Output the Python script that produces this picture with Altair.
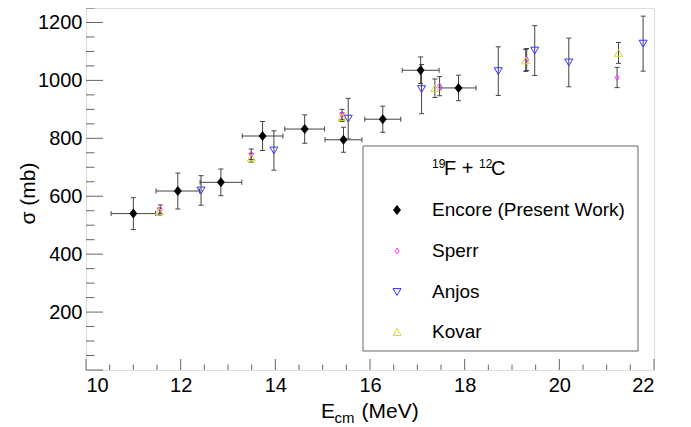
import altair as alt
import pandas as pd
import numpy as np

# ---- data ----
# Encore (Present Work)
enc_E = [11.00, 11.94, 12.85, 13.73, 14.62, 15.44, 16.27, 17.07, 17.87]
enc_dE = [0.47, 0.46, 0.44, 0.43, 0.42, 0.39, 0.38, 0.39, 0.37]
enc_sig = [540, 618, 648, 808, 832, 795, 866, 1035, 974]
enc_dsig = [55, 62, 46, 50, 49, 43, 45, 46, 44]

# Sperr
sperr_E = [11.57, 13.49, 15.41, 17.47, 19.31, 21.22]
sperr_sig = [555, 745, 882, 980, 1072, 1010]
sperr_dsig = [15, 18, 18, 33, 38, 35]

# Anjos
anjos_E = [12.43, 13.97, 15.54, 17.09, 18.71, 19.48, 20.20, 21.77]
anjos_sig = [620, 758, 868, 970, 1032, 1103, 1062, 1127]
anjos_dsig = [51, 68, 70, 85, 84, 86, 84, 95]

# Kovar
kovar_E = [11.55, 13.49, 15.41, 17.37, 19.29, 21.25]
kovar_sig = [547, 733, 873, 973, 1069, 1095]
kovar_dsig = [12, 15, 15, 32, 38, 36]

series_names = ["Encore (Present Work)", "Sperr", "Anjos", "Kovar"]

x_labels = [10, 12, 14, 16, 18, 20, 22]
y_labels = [200, 400, 600, 800, 1000, 1200]
x_major_ticks = x_labels
x_minor_ticks = [v for v in np.arange(10, 22.01, 0.5).tolist() if v not in x_labels]
y_major_ticks = [0] + y_labels
y_minor_ticks = [v for v in range(0, 1251, 50) if v not in y_major_ticks]

# ---- styling ----
W, H = 568, 362
FONT = "Liberation Sans"
BAR = "#444444"
FRAME = "#666666"

xs = alt.Scale(domain=[10, 22], nice=False, zero=False)
ys = alt.Scale(domain=[0, 1250], nice=False, zero=False)
xaxis = alt.Axis(values=x_labels, ticks=False, tickSize=0, domain=False, grid=False,
                 labelFontSize=20, labelFont=FONT, labelColor="black", labelPadding=5,
                 format="d", title=None)
yaxis = alt.Axis(values=y_labels, ticks=False, tickSize=0, domain=False, grid=False,
                 labelFontSize=20, labelFont=FONT, labelColor="black", labelPadding=4,
                 format="d",
                 title="σ (mb)", titleFont=FONT, titleFontSize=21, titleFontWeight="normal",
                 titleColor="black", titleX=-58, titleY=185, titleAngle=270,
                 titleAlign="center", titleBaseline="middle")


def X(f):
    return alt.X(f, type="quantitative", scale=xs, axis=xaxis)


def Y(f):
    return alt.Y(f, type="quantitative", scale=ys, axis=yaxis)


def frame(E, sig, dsig, dE=None):
    d = pd.DataFrame({"E": E, "sig": sig, "dsig": dsig})
    d["lo"] = d["sig"] - d["dsig"]
    d["hi"] = d["sig"] + d["dsig"]
    if dE is not None:
        d["dE"] = dE
        d["Elo"] = d["E"] - d["dE"]
        d["Ehi"] = d["E"] + d["dE"]
    return d


enc = frame(enc_E, enc_sig, enc_dsig, enc_dE)
sperr = frame(sperr_E, sperr_sig, sperr_dsig)
anjos = frame(anjos_E, anjos_sig, anjos_dsig)
kovar = frame(kovar_E, kovar_sig, kovar_dsig)

SHAPE_ENC = "M0,-1L0.8,0L0,1L-0.8,0Z"
SHAPE_SPERR = "M0,-1L0.7,0L0,1L-0.7,0Z"
SHAPE_DOWN = "M-1,-0.85L1,-0.85L0,0.85Z"
SHAPE_UP = "M-1,0.85L1,0.85L0,-0.85Z"

styles = {
    "Encore (Present Work)": dict(shape=SHAPE_ENC, size=100, filled=True, color="black"),
    "Sperr": dict(shape=SHAPE_SPERR, size=36, filled=False, color="#ff33ff"),
    "Anjos": dict(shape=SHAPE_DOWN, size=64, filled=False, color="#3333ff"),
    "Kovar": dict(shape=SHAPE_UP, size=64, filled=False, color="#d6d62a"),
}

layers = []

# inward axis ticks
tx_major = pd.DataFrame({"t": x_major_ticks})
tx_minor = pd.DataFrame({"t": x_minor_ticks})
ty_major = pd.DataFrame({"t": y_major_ticks})
ty_minor = pd.DataFrame({"t": y_minor_ticks})
layers.append(alt.Chart(tx_major).mark_rule(color=FRAME, strokeWidth=1).encode(
    x=X("t"), y=alt.value(H), y2=alt.value(H - 11)))
layers.append(alt.Chart(tx_minor).mark_rule(color=FRAME, strokeWidth=1).encode(
    x=X("t"), y=alt.value(H), y2=alt.value(H - 5.5)))
layers.append(alt.Chart(ty_major).mark_rule(color=FRAME, strokeWidth=1).encode(
    y=Y("t"), x=alt.value(0), x2=alt.value(17)))
layers.append(alt.Chart(ty_minor).mark_rule(color=FRAME, strokeWidth=1).encode(
    y=Y("t"), x=alt.value(0), x2=alt.value(8.5)))


def yerr(d):
    return [
        alt.Chart(d).mark_rule(color=BAR, strokeWidth=1).encode(x=X("E"), y=Y("lo"), y2="hi"),
        alt.Chart(d).mark_tick(color=BAR, orient="horizontal", size=5, thickness=1, opacity=1).encode(x=X("E"), y=Y("lo")),
        alt.Chart(d).mark_tick(color=BAR, orient="horizontal", size=5, thickness=1, opacity=1).encode(x=X("E"), y=Y("hi")),
    ]


# error bars
for d in (sperr, kovar, anjos):
    layers += yerr(d)
layers += yerr(enc)
layers.append(alt.Chart(enc).mark_rule(color=BAR, strokeWidth=1).encode(x=X("Elo"), x2="Ehi", y=Y("sig")))
layers.append(alt.Chart(enc).mark_tick(color=BAR, orient="vertical", size=5, thickness=1, opacity=1).encode(x=X("Elo"), y=Y("sig")))
layers.append(alt.Chart(enc).mark_tick(color=BAR, orient="vertical", size=5, thickness=1, opacity=1).encode(x=X("Ehi"), y=Y("sig")))


def markers(d, name):
    s = styles[name]
    if s["filled"]:
        m = alt.Chart(d).mark_point(shape=s["shape"], size=s["size"], filled=True,
                                    color=s["color"], opacity=1, strokeWidth=0)
    else:
        m = alt.Chart(d).mark_point(shape=s["shape"], size=s["size"], filled=False,
                                    stroke=s["color"], opacity=1, strokeWidth=1)
    return m.encode(x=X("E"), y=Y("sig"))


layers.append(markers(anjos, "Anjos"))
layers.append(markers(sperr, "Sperr"))
layers.append(markers(kovar, "Kovar"))
layers.append(markers(enc, "Encore (Present Work)"))

# ---- legend (drawn as marks) ----
one = pd.DataFrame({"a": [0]})
layers.append(alt.Chart(one).mark_rect(fill="white", stroke=FRAME, strokeWidth=1).encode(
    x=alt.value(277), x2=alt.value(552), y=alt.value(138), y2=alt.value(343)))


def txt(s, x, y, size, baseline="alphabetic"):
    return alt.Chart(one).mark_text(text=s, font=FONT, fontSize=size, color="black",
                                    align="left", baseline=baseline).encode(
        x=alt.value(x), y=alt.value(y))


layers += [txt("19", 346, 159.5, 12), txt("F + ", 358, 167, 20),
           txt("12", 393, 159.5, 12), txt("C", 405, 167, 20)]
row_y = [202, 243, 284, 324]
for name, ry in zip(series_names, row_y):
    s = styles[name]
    if s["filled"]:
        m = alt.Chart(one).mark_point(shape=s["shape"], size=s["size"], filled=True,
                                      color=s["color"], opacity=1, strokeWidth=0)
    else:
        m = alt.Chart(one).mark_point(shape=s["shape"], size=s["size"], filled=False,
                                      stroke=s["color"], opacity=1, strokeWidth=1)
    layers.append(m.encode(x=alt.value(311), y=alt.value(ry)))
    layers.append(txt(name, 346, ry, 19, baseline="middle"))

# ---- x axis title with subscript ----
layers += [txt("E", 235, 410, 21), txt("cm", 248.5, 414.5, 15), txt("(MeV)", 275.5, 410, 21)]

chart = alt.layer(*layers).properties(
    width=W, height=H,
    autosize=alt.AutoSizeParams(type="none"),
    padding={"left": 78, "top": 0, "right": 20, "bottom": 56},
).configure_view(stroke=FRAME, strokeWidth=1).configure(background="white")

chart.save("out.html", embed_options={"renderer": "svg", "actions": False})
